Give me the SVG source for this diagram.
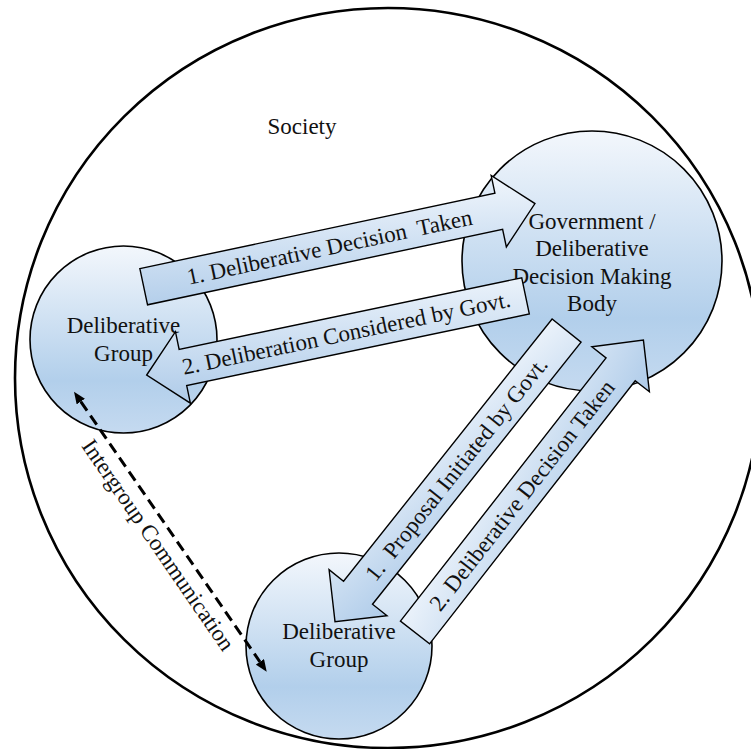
<svg xmlns="http://www.w3.org/2000/svg" width="751" height="749" viewBox="0 0 751 749">
  <defs>
    <linearGradient id="gc" x1="0" y1="0" x2="0" y2="1">
      <stop offset="0" stop-color="#f3f7fc"/>
      <stop offset="0.72" stop-color="#b2cfeb"/>
      <stop offset="1" stop-color="#c5daf0"/>
    </linearGradient>
    <linearGradient id="ga" x1="1" y1="0" x2="0" y2="1">
      <stop offset="0" stop-color="#f4f8fd"/>
      <stop offset="1" stop-color="#abc9e8"/>
    </linearGradient>
    <linearGradient id="gb" x1="0" y1="0" x2="1" y2="1">
      <stop offset="0" stop-color="#f4f8fd"/>
      <stop offset="1" stop-color="#abc9e8"/>
    </linearGradient>
    <marker id="ah" viewBox="0 0 12 10" refX="0" refY="5" markerWidth="12" markerHeight="10" markerUnits="userSpaceOnUse" orient="auto-start-reverse">
      <path d="M0,0 L12,5 L0,10 Z" fill="#000"/>
    </marker>
    <style>
      text { font-family: "Liberation Serif", "Times New Roman", serif; font-size: 23px; fill: #111; }
      .node { fill: url(#gc); stroke: #000; stroke-width: 1.6; }
      .arrow-a { fill: url(#ga); stroke: #000; stroke-width: 1.4; stroke-linejoin: miter; }
      .arrow-b { fill: url(#gb); stroke: #000; stroke-width: 1.4; stroke-linejoin: miter; }
      .c { text-anchor: middle; }
      .pre { white-space: pre; }
    </style>
  </defs>

  <g id="society">
    <ellipse cx="388" cy="378" rx="373" ry="370" fill="none" stroke="#000" stroke-width="2.6"/>
    <text x="302" y="134" class="c">Society</text>
  </g>

  <g id="group-left">
    <circle cx="123.5" cy="339.5" r="93.5" class="node"/>
    <text x="123.5" y="333" class="c">Deliberative</text>
    <text x="123.5" y="361" class="c">Group</text>
  </g>

  <g id="government">
    <circle cx="592" cy="261" r="130" class="node"/>
    <text x="592" y="228.5" class="c">Government /</text>
    <text x="592" y="256" class="c">Deliberative</text>
    <text x="592" y="283.5" class="c">Decision Making</text>
    <text x="592" y="311" class="c">Body</text>
  </g>

  <g id="group-bottom">
    <circle cx="339" cy="646" r="93" class="node"/>
    <text x="339" y="639" class="c">Deliberative</text>
    <text x="339" y="667" class="c">Group</text>
  </g>

  <g id="connectors">
    <g id="intergroup">
      <line x1="80.8" y1="401.6" x2="259.9" y2="661.8" stroke="#000" stroke-width="3" stroke-dasharray="11,6" marker-start="url(#ah)" marker-end="url(#ah)"/>
      <text transform="translate(74,391.7) rotate(55.5)" x="174" y="25" class="c">Intergroup Communication</text>
    </g>
    <g id="arrow-1" transform="translate(143.7,286.7) rotate(-12)">
      <path d="M0,-18.5 H363 V-36.5 L400,0 L363,36.5 V18.5 H0 Z" class="arrow-a"/>
      <text x="190" y="7.5" class="c pre">1. Deliberative Decision  Taken</text>
    </g>
    <g id="arrow-2" transform="translate(146.7,375) rotate(-11.8)">
      <path d="M0,0 L37,-36.5 V-18.5 H387 V18.5 H37 V36.5 Z" class="arrow-a"/>
      <text x="204" y="7.5" class="c">2. Deliberation Considered by Govt.</text>
    </g>
    <g id="arrow-3" transform="translate(335,621.7) rotate(-51.5)">
      <path d="M0,0 L37,-37 V-18.5 H372 V18.5 H37 V37 Z" class="arrow-a"/>
      <text x="195" y="7.5" class="c pre">1.  Proposal Initiated by Govt.</text>
    </g>
    <g id="arrow-4" transform="translate(415,632.5) rotate(-52)">
      <path d="M0,-18.5 H334 V-36.5 L371,0 L334,36.5 V18.5 H0 Z" class="arrow-b"/>
      <text x="174" y="7.5" class="c">2. Deliberative Decision Taken</text>
    </g>
  </g>
</svg>
